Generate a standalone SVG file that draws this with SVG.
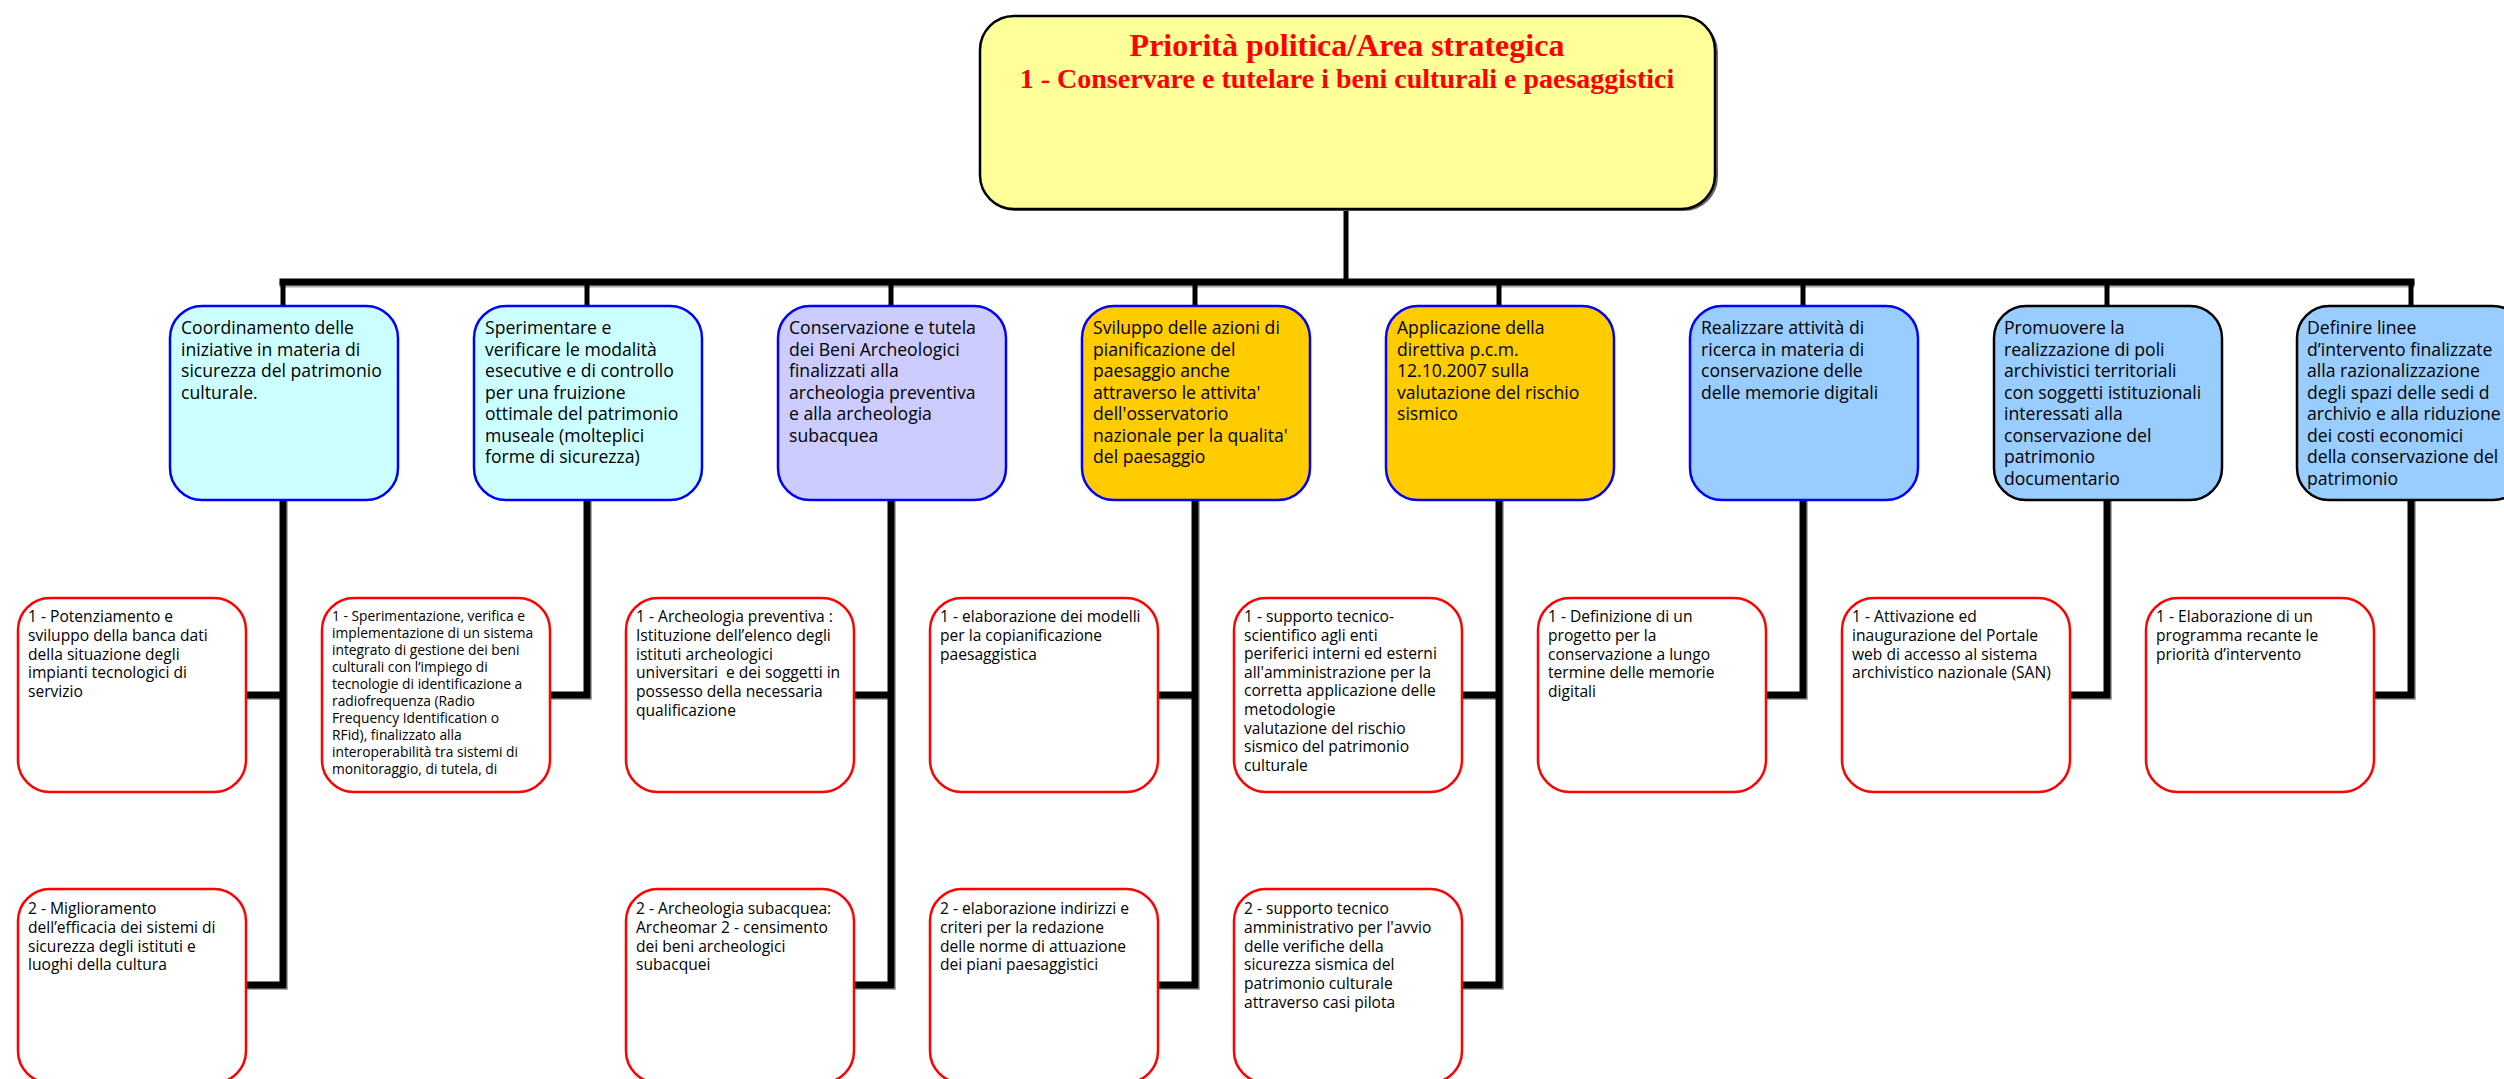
<svg xmlns="http://www.w3.org/2000/svg" width="2504" height="1079" viewBox="0 0 2504 1079">
<style>
.title{font-family:"Liberation Serif","Times New Roman",serif;font-weight:bold;fill:#FF0000;text-anchor:middle}
.l2{font-family:"Open Sans","DejaVu Sans",sans-serif;font-size:17.6px;fill:#000}
.l3{font-family:"Open Sans","DejaVu Sans",sans-serif;font-size:15.6px;fill:#000}
.l3s{font-family:"Open Sans","DejaVu Sans",sans-serif;font-size:13.8px;fill:#000}
.box2{stroke:#0000FF;stroke-width:2.5}
.box2k{stroke:#000;stroke-width:2.5}
.box3{fill:#FFFFFF;stroke:#FF0000;stroke-width:2.5}
.cyan{fill:#CCFFFF}.lav{fill:#CCCCFF}.orange{fill:#FFCC00}.blue{fill:#99CCFF}
.conn{fill:none;stroke:#000;stroke-linejoin:miter;stroke-linecap:square}
.shadow{fill:none;stroke:#AAAAAA;stroke-linecap:square}
</style>
<rect width="2504" height="1079" fill="#FFFFFF"/>

<g id="connectors">
  <path class="conn" d="M1346,210 V282" stroke-width="5"/>
  <path class="shadow" d="M283,284 H2411" stroke-width="7"/>
  <path class="conn" d="M283,282 H2411" stroke-width="7"/>
  <path class="conn" d="M283,282 V305 M587,282 V305 M891,282 V305 M1195,282 V305 M1499,282 V305 M1803,282 V305 M2107,282 V305 M2411,282 V305" stroke-width="5"/>
  <g class="shadow" stroke-width="7" transform="translate(1.5,1.5)">
    <path d="M283,500 V985 H246 M283,695 H246"/>
    <path d="M587,500 V695 H550"/>
    <path d="M891,500 V985 H854 M891,695 H854"/>
    <path d="M1195,500 V985 H1158 M1195,695 H1158"/>
    <path d="M1499,500 V985 H1462 M1499,695 H1462"/>
    <path d="M1803,500 V695 H1766"/>
    <path d="M2107,500 V695 H2070"/>
    <path d="M2411,500 V695 H2374"/>
  </g>
  <g class="conn" stroke-width="7">
    <path d="M283,500 V985 H246 M283,695 H246"/>
    <path d="M587,500 V695 H550"/>
    <path d="M891,500 V985 H854 M891,695 H854"/>
    <path d="M1195,500 V985 H1158 M1195,695 H1158"/>
    <path d="M1499,500 V985 H1462 M1499,695 H1462"/>
    <path d="M1803,500 V695 H1766"/>
    <path d="M2107,500 V695 H2070"/>
    <path d="M2411,500 V695 H2374"/>
  </g>
</g>

<g id="root">
  <rect x="982" y="18" width="736" height="193" rx="34" fill="#666"/>
  <rect x="980" y="16" width="735" height="193" rx="34" fill="#FFFF99" stroke="#000" stroke-width="2.5"/>
  <text class="title" x="1347" y="56" font-size="32">Priorità politica/Area strategica</text>
  <text class="title" x="1347" y="88" font-size="28">1 - Conservare e tutelare i beni culturali e paesaggistici</text>
</g>

<g id="n1">
  <rect class="box2 cyan" x="170" y="306" width="228" height="194" rx="32"/>
  <text class="l2" y="334"><tspan x="181">Coordinamento delle</tspan><tspan x="181" dy="21.5">iniziative in materia di</tspan><tspan x="181" dy="21.5">sicurezza del patrimonio</tspan><tspan x="181" dy="21.5">culturale.</tspan></text>
</g>
<g id="n2">
  <rect class="box2 cyan" x="474" y="306" width="228" height="194" rx="32"/>
  <text class="l2" y="334"><tspan x="485">Sperimentare e</tspan><tspan x="485" dy="21.5">verificare le modalità</tspan><tspan x="485" dy="21.5">esecutive e di controllo</tspan><tspan x="485" dy="21.5">per una fruizione</tspan><tspan x="485" dy="21.5">ottimale del patrimonio</tspan><tspan x="485" dy="21.5">museale (molteplici</tspan><tspan x="485" dy="21.5">forme di sicurezza)</tspan></text>
</g>
<g id="n3">
  <rect class="box2 lav" x="778" y="306" width="228" height="194" rx="32"/>
  <text class="l2" y="334"><tspan x="789">Conservazione e tutela</tspan><tspan x="789" dy="21.5">dei Beni Archeologici</tspan><tspan x="789" dy="21.5">finalizzati alla</tspan><tspan x="789" dy="21.5">archeologia preventiva</tspan><tspan x="789" dy="21.5">e alla archeologia</tspan><tspan x="789" dy="21.5">subacquea</tspan></text>
</g>
<g id="n4">
  <rect class="box2 orange" x="1082" y="306" width="228" height="194" rx="32"/>
  <text class="l2" y="334"><tspan x="1093">Sviluppo delle azioni di</tspan><tspan x="1093" dy="21.5">pianificazione del</tspan><tspan x="1093" dy="21.5">paesaggio anche</tspan><tspan x="1093" dy="21.5">attraverso le attivita'</tspan><tspan x="1093" dy="21.5">dell'osservatorio</tspan><tspan x="1093" dy="21.5">nazionale per la qualita'</tspan><tspan x="1093" dy="21.5">del paesaggio</tspan></text>
</g>
<g id="n5">
  <rect class="box2 orange" x="1386" y="306" width="228" height="194" rx="32"/>
  <text class="l2" y="334"><tspan x="1397">Applicazione della</tspan><tspan x="1397" dy="21.5">direttiva p.c.m.</tspan><tspan x="1397" dy="21.5">12.10.2007 sulla</tspan><tspan x="1397" dy="21.5">valutazione del rischio</tspan><tspan x="1397" dy="21.5">sismico</tspan></text>
</g>
<g id="n6">
  <rect class="box2 blue" x="1690" y="306" width="228" height="194" rx="32"/>
  <text class="l2" y="334"><tspan x="1701">Realizzare attività di</tspan><tspan x="1701" dy="21.5">ricerca in materia di</tspan><tspan x="1701" dy="21.5">conservazione delle</tspan><tspan x="1701" dy="21.5">delle memorie digitali</tspan></text>
</g>
<g id="n7">
  <rect class="box2k blue" x="1994" y="306" width="228" height="194" rx="32"/>
  <text class="l2" y="334"><tspan x="2004">Promuovere la</tspan><tspan x="2004" dy="21.5">realizzazione di poli</tspan><tspan x="2004" dy="21.5">archivistici territoriali</tspan><tspan x="2004" dy="21.5">con soggetti istituzionali</tspan><tspan x="2004" dy="21.5">interessati alla</tspan><tspan x="2004" dy="21.5">conservazione del</tspan><tspan x="2004" dy="21.5">patrimonio</tspan><tspan x="2004" dy="21.5">documentario</tspan></text>
</g>
<g id="n8">
  <rect class="box2k blue" x="2297" y="306" width="228" height="194" rx="32"/>
  <text class="l2" y="334"><tspan x="2307">Definire linee</tspan><tspan x="2307" dy="21.5">d’intervento finalizzate</tspan><tspan x="2307" dy="21.5">alla razionalizzazione</tspan><tspan x="2307" dy="21.5">degli spazi delle sedi d</tspan><tspan x="2307" dy="21.5">archivio e alla riduzione</tspan><tspan x="2307" dy="21.5">dei costi economici</tspan><tspan x="2307" dy="21.5">della conservazione del</tspan><tspan x="2307" dy="21.5">patrimonio</tspan></text>
</g>

<g id="n1a">
  <rect class="box3" x="18" y="598" width="228" height="194" rx="32"/>
  <text class="l3" y="622"><tspan x="28">1 - Potenziamento e</tspan><tspan x="28" dy="18.8">sviluppo della banca dati</tspan><tspan x="28" dy="18.8">della situazione degli</tspan><tspan x="28" dy="18.8">impianti tecnologici di</tspan><tspan x="28" dy="18.8">servizio</tspan></text>
</g>
<g id="n1b">
  <rect class="box3" x="18" y="889" width="228" height="194" rx="32"/>
  <text class="l3" y="914"><tspan x="28">2 - Miglioramento</tspan><tspan x="28" dy="18.8">dell’efficacia dei sistemi di</tspan><tspan x="28" dy="18.8">sicurezza degli istituti e</tspan><tspan x="28" dy="18.8">luoghi della cultura</tspan></text>
</g>
<g id="n2a">
  <rect class="box3" x="322" y="598" width="228" height="194" rx="32"/>
  <text class="l3s" y="621"><tspan x="332">1 - Sperimentazione, verifica e</tspan><tspan x="332" dy="17">implementazione di un sistema</tspan><tspan x="332" dy="17">integrato di gestione dei beni</tspan><tspan x="332" dy="17">culturali con l’impiego di</tspan><tspan x="332" dy="17">tecnologie di identificazione a</tspan><tspan x="332" dy="17">radiofrequenza (Radio</tspan><tspan x="332" dy="17">Frequency Identification o</tspan><tspan x="332" dy="17">RFid), finalizzato alla</tspan><tspan x="332" dy="17">interoperabilità tra sistemi di</tspan><tspan x="332" dy="17">monitoraggio, di tutela, di</tspan></text>
</g>
<g id="n3a">
  <rect class="box3" x="626" y="598" width="228" height="194" rx="32"/>
  <text class="l3" y="622"><tspan x="636">1 - Archeologia preventiva :</tspan><tspan x="636" dy="18.8">Istituzione dell’elenco degli</tspan><tspan x="636" dy="18.8">istituti archeologici</tspan><tspan x="636" dy="18.8" xml:space="preserve">universitari  e dei soggetti in</tspan><tspan x="636" dy="18.8">possesso della necessaria</tspan><tspan x="636" dy="18.8">qualificazione</tspan></text>
</g>
<g id="n3b">
  <rect class="box3" x="626" y="889" width="228" height="194" rx="32"/>
  <text class="l3" y="914"><tspan x="636">2 - Archeologia subacquea:</tspan><tspan x="636" dy="18.8">Archeomar 2 - censimento</tspan><tspan x="636" dy="18.8">dei beni archeologici</tspan><tspan x="636" dy="18.8">subacquei</tspan></text>
</g>
<g id="n4a">
  <rect class="box3" x="930" y="598" width="228" height="194" rx="32"/>
  <text class="l3" y="622"><tspan x="940">1 - elaborazione dei modelli</tspan><tspan x="940" dy="18.8">per la copianificazione</tspan><tspan x="940" dy="18.8">paesaggistica</tspan></text>
</g>
<g id="n4b">
  <rect class="box3" x="930" y="889" width="228" height="194" rx="32"/>
  <text class="l3" y="914"><tspan x="940">2 - elaborazione indirizzi e</tspan><tspan x="940" dy="18.8">criteri per la redazione</tspan><tspan x="940" dy="18.8">delle norme di attuazione</tspan><tspan x="940" dy="18.8">dei piani paesaggistici</tspan></text>
</g>
<g id="n5a">
  <rect class="box3" x="1234" y="598" width="228" height="194" rx="32"/>
  <text class="l3" y="622"><tspan x="1244">1 - supporto tecnico-</tspan><tspan x="1244" dy="18.6">scientifico agli enti</tspan><tspan x="1244" dy="18.6">periferici interni ed esterni</tspan><tspan x="1244" dy="18.6">all'amministrazione per la</tspan><tspan x="1244" dy="18.6">corretta applicazione delle</tspan><tspan x="1244" dy="18.6">metodologie</tspan><tspan x="1244" dy="18.6">valutazione del rischio</tspan><tspan x="1244" dy="18.6">sismico del patrimonio</tspan><tspan x="1244" dy="18.6">culturale</tspan></text>
</g>
<g id="n5b">
  <rect class="box3" x="1234" y="889" width="228" height="194" rx="32"/>
  <text class="l3" y="914"><tspan x="1244">2 - supporto tecnico</tspan><tspan x="1244" dy="18.8">amministrativo per l'avvio</tspan><tspan x="1244" dy="18.8">delle verifiche della</tspan><tspan x="1244" dy="18.8">sicurezza sismica del</tspan><tspan x="1244" dy="18.8">patrimonio culturale</tspan><tspan x="1244" dy="18.8">attraverso casi pilota</tspan></text>
</g>
<g id="n6a">
  <rect class="box3" x="1538" y="598" width="228" height="194" rx="32"/>
  <text class="l3" y="622"><tspan x="1548">1 - Definizione di un</tspan><tspan x="1548" dy="18.8">progetto per la</tspan><tspan x="1548" dy="18.8">conservazione a lungo</tspan><tspan x="1548" dy="18.8">termine delle memorie</tspan><tspan x="1548" dy="18.8">digitali</tspan></text>
</g>
<g id="n7a">
  <rect class="box3" x="1842" y="598" width="228" height="194" rx="32"/>
  <text class="l3" y="622"><tspan x="1852">1 - Attivazione ed</tspan><tspan x="1852" dy="18.8">inaugurazione del Portale</tspan><tspan x="1852" dy="18.8">web di accesso al sistema</tspan><tspan x="1852" dy="18.8">archivistico nazionale (SAN)</tspan></text>
</g>
<g id="n8a">
  <rect class="box3" x="2146" y="598" width="228" height="194" rx="32"/>
  <text class="l3" y="622"><tspan x="2156">1 - Elaborazione di un</tspan><tspan x="2156" dy="18.8">programma recante le</tspan><tspan x="2156" dy="18.8">priorità d’intervento</tspan></text>
</g>
</svg>
